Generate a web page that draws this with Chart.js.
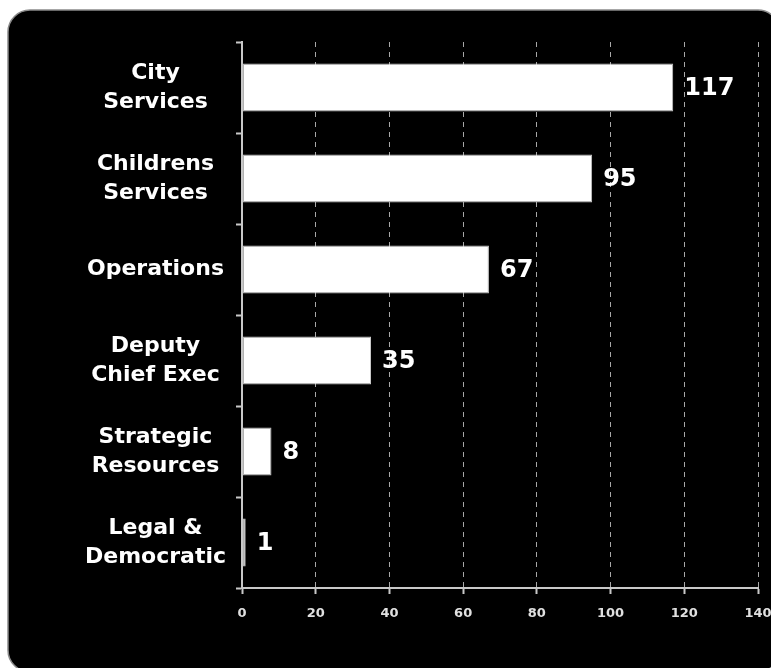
<!DOCTYPE html>
<html>
<head>
<meta charset="utf-8">
<script src="https://cdn.jsdelivr.net/npm/chart.js@4/dist/chart.umd.min.js"></script>
<style>
  html, body { margin: 0; padding: 0; background: #fff; }
  #wrap { width: 771px; height: 668px; }
</style>
</head>
<body>
<div id="wrap"><canvas id="deptChart" width="771" height="668"></canvas></div>
<script>
const categories = [
    ['City', 'Services'],
    ['Childrens', 'Services'],
    'Operations',
    ['Deputy', 'Chief Exec'],
    ['Strategic', 'Resources'],
    ['Legal &', 'Democratic']
];
const values = [117, 95, 67, 35, 8, 1];
const xTicks = [0, 20, 40, 60, 80, 100, 120, 140];

// black rounded panel behind the chart
const panelPlugin = {
    id: 'panel',
    beforeDraw(chart) {
        const ctx = chart.ctx;
        const x = 8, y = 10, w = 772, h = 662, r = 22;
        ctx.save();
        ctx.fillStyle = '#fff';
        ctx.fillRect(0, 0, chart.width, chart.height);
        ctx.beginPath();
        ctx.moveTo(x + r, y);
        ctx.lineTo(x + w - r, y);
        ctx.arcTo(x + w, y, x + w, y + r, r);
        ctx.lineTo(x + w, y + h - r);
        ctx.arcTo(x + w, y + h, x + w - r, y + h, r);
        ctx.lineTo(x + r, y + h);
        ctx.arcTo(x, y + h, x, y + h - r, r);
        ctx.lineTo(x, y + r);
        ctx.arcTo(x, y, x + r, y, r);
        ctx.closePath();
        ctx.fillStyle = '#000';
        ctx.fill();
        ctx.strokeStyle = '#8a8a8a';
        ctx.lineWidth = 1.5;
        ctx.stroke();
        ctx.restore();
    }
};

// value text to the right of each bar
const valueLabels = {
    id: 'valueLabels',
    afterDatasetsDraw(chart) {
        const ctx = chart.ctx;
        const meta = chart.getDatasetMeta(0);
        ctx.save();
        ctx.font = 'bold 24px "DejaVu Sans"';
        ctx.fillStyle = '#fff';
        ctx.textAlign = 'left';
        ctx.textBaseline = 'middle';
        meta.data.forEach((bar, i) => {
            ctx.fillText(values[i], bar.x + 11, bar.y + 1);
        });
        ctx.restore();
    }
};

new Chart(document.getElementById('deptChart'), {
    type: 'bar',
    data: {
        labels: categories,
        datasets: [{
            data: values,
            backgroundColor: '#fff',
            borderColor: '#c8c8c8',
            borderWidth: 1,
            borderSkipped: false,
            barPercentage: 0.53,
            categoryPercentage: 1
        }]
    },
    options: {
        indexAxis: 'y',
        responsive: false,
        animation: false,
        layout: { padding: { top: 42, right: 13, left: 0, bottom: 0 } },
        plugins: {
            legend: { display: false },
            tooltip: { enabled: false }
        },
        scales: {
            x: {
                min: 0,
                max: 140,
                afterBuildTicks(scale) {
                    scale.ticks = xTicks.map(v => ({ value: v }));
                },
                afterFit(scale) {
                    scale.height = 80;
                    scale.paddingRight = 0;
                    scale.paddingLeft = 0;
                },
                grid: {
                    color: '#a8a8a8',
                    lineWidth: 1,
                    tickColor: '#c8c8c8',
                    tickWidth: 2,
                    tickLength: 6,
                    tickBorderDash: []
                },
                border: { display: true, color: '#c8c8c8', width: 2, dash: [5, 5] },
                ticks: {
                    color: '#e0e0e0',
                    font: { family: 'DejaVu Sans', size: 13, weight: 'bold' },
                    padding: 12,
                    maxRotation: 0
                }
            },
            y: {
                afterFit(scale) { scale.width = 242; },
                grid: {
                    offset: true,
                    drawOnChartArea: false,
                    tickColor: '#c8c8c8',
                    tickWidth: 2,
                    tickLength: 6
                },
                border: { display: true, color: '#c8c8c8', width: 2 },
                ticks: {
                    color: '#fff',
                    crossAlign: 'center',
                    padding: 10,
                    font: { family: 'DejaVu Sans', size: 22, weight: 'bold', lineHeight: 1.3 }
                }
            }
        }
    },
    plugins: [panelPlugin, valueLabels]
});
</script>
</body>
</html>
